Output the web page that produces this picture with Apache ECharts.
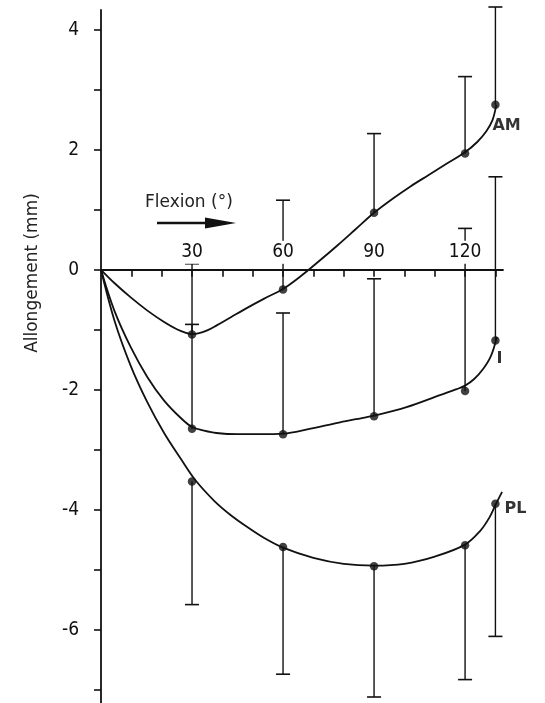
<!DOCTYPE html>
<html>
<head>
<meta charset="utf-8">
<script src="https://cdn.jsdelivr.net/npm/echarts@6/dist/echarts.min.js"></script>
<style>
  html, body { margin: 0; padding: 0; background: #ffffff; }
  #chart { width: 545px; height: 703px; }
</style>
</head>
<body>
<div id="chart"></div>
<script>
// ---- data ----
const angles   = [30, 60, 90, 120, 130];          // flexion (deg) of measured points
const amMean   = [-1.08, -0.33, 0.95, 1.94, 2.75];
const amUpper  = [0.10, 1.16, 2.27, 3.22, 4.38];
const iMean    = [-2.65, -2.74, -2.44, -2.02, -1.18];
const iUpper   = [-0.91, -0.72, -0.15, 0.69, 1.55];
const plMean   = [-3.53, -4.62, -4.94, -4.59, -3.90];
const plLower  = [-5.58, -6.74, -7.12, -6.83, -6.11];

// fitted curves
const amCurveX = [0, 4.4, 9.8, 15.3, 20.8, 25, 28, 30, 32, 35, 38, 42.8, 48.3, 53.8, 60, 66, 72, 78, 84, 90, 96, 102, 108, 114, 120, 124, 127, 129, 130.3];
const amCurveY = [0, -0.22, -0.46, -0.68, -0.87, -0.99, -1.05, -1.07, -1.06, -1.01, -0.93, -0.79, -0.63, -0.48, -0.32, -0.10, 0.15, 0.41, 0.68, 0.95, 1.18, 1.39, 1.58, 1.77, 1.96, 2.13, 2.31, 2.49, 2.75];
const iCurveX  = [0, 4.4, 9.8, 15.3, 20.8, 26.3, 30, 34, 38, 45, 53, 60, 68, 78, 84, 90, 100.7, 111.7, 117.2, 120, 123, 126, 128.5, 130.5];
const iCurveY  = [0, -0.68, -1.29, -1.79, -2.18, -2.47, -2.62, -2.68, -2.72, -2.74, -2.74, -2.73, -2.66, -2.55, -2.49, -2.43, -2.29, -2.09, -1.99, -1.93, -1.82, -1.65, -1.44, -1.12];
const plCurveX = [0, 4.4, 9.8, 15.3, 20.8, 26.3, 31, 37.3, 42.8, 48.3, 53.8, 60, 70, 80, 90, 100, 110, 120, 125, 128, 130, 132.2];
const plCurveY = [0, -0.84, -1.60, -2.21, -2.72, -3.15, -3.50, -3.85, -4.09, -4.29, -4.47, -4.63, -4.80, -4.90, -4.93, -4.90, -4.78, -4.58, -4.35, -4.13, -3.92, -3.70];

const seriesNames = ['AM', 'I', 'PL'];
const xTickValues  = [10, 20, 30, 40, 50, 60, 70, 80, 90, 100, 110, 120, 130];
const xLabelValues = [30, 60, 90, 120];
const yTickValues  = [-7, -6, -5, -4, -3, -2, -1, 0, 1, 2, 3, 4];
const yLabelValues = [-6, -4, -2, 0, 2, 4];
const xName = 'Flexion (°)';
const yName = 'Allongement (mm)';

const INK = '#111111';
const X_MIN = 0, X_MAX = 132.5, Y_MIN = -7.22, Y_MAX = 4.33;
const chart = echarts.init(document.getElementById('chart'), null, { renderer: 'canvas' });

function curve(xs, ys) {
  return {
    type: 'line', smooth: 0.35, xAxisIndex: 0, yAxisIndex: 0,
    data: xs.map((x, i) => [x, ys[i]]),
    showSymbol: false, symbol: 'none',
    lineStyle: { color: INK, width: 1.8 },
    z: 3, animation: false, silent: true
  };
}

function points(name, means, labelOffset) {
  return {
    name: name, type: 'scatter', xAxisIndex: 0, yAxisIndex: 0,
    symbol: 'circle', symbolSize: 8.5,
    itemStyle: { color: INK },
    data: means.map((m, i) => {
      const item = { value: [angles[i], m] };
      if (i === means.length - 1) {
        item.label = {
          show: true, formatter: name, position: 'inside',
          align: 'left', verticalAlign: 'middle', offset: labelOffset,
          color: '#000', fontFamily: 'DejaVu Sans', fontWeight: 'bold', fontSize: 16
        };
      }
      return item;
    }),
    z: 4, animation: false
  };
}

function errBars(means, ends) {
  return {
    type: 'custom', clip: false, z: 2, animation: false, xAxisIndex: 0, yAxisIndex: 0,
    data: means.map((m, i) => [angles[i], m, ends[i]]),
    renderItem: function (params, api) {
      const p0 = api.coord([api.value(0), api.value(1)]);
      const p1 = api.coord([api.value(0), api.value(2)]);
      const cw = 7;
      return {
        type: 'group',
        children: [
          { type: 'line', shape: { x1: p0[0], y1: p0[1], x2: p1[0], y2: p1[1] },
            style: { stroke: INK, lineWidth: 1.4 } },
          { type: 'line', shape: { x1: p1[0] - cw, y1: p1[1], x2: p1[0] + cw, y2: p1[1] },
            style: { stroke: INK, lineWidth: 1.6 } }
        ]
      };
    }
  };
}

const TICK_FONT = { color: INK, fontFamily: 'DejaVu Sans Condensed, DejaVu Sans', fontSize: 19 };
// zero line position (pixels) for the label strip grid
const gridTop = 10, gridH = 693;
const zeroY = gridTop + gridH * (Y_MAX - 0) / (Y_MAX - Y_MIN);

const option = {
  backgroundColor: '#ffffff',
  animation: false,
  grid: [
    { left: 101, right: 42, top: gridTop, height: gridH, containLabel: false },
    { left: 101, right: 42, top: zeroY, height: 1, containLabel: false }
  ],
  xAxis: [
    {
      type: 'value', min: X_MIN, max: X_MAX, gridIndex: 0, z: 4,
      axisLine: { onZero: true, lineStyle: { color: INK, width: 1.8 } },
      axisTick: { show: true, inside: false, length: 7, customValues: xTickValues,
                  lineStyle: { color: INK, width: 1.6 } },
      axisLabel: { show: false },
      splitLine: { show: false }
    },
    {
      type: 'value', min: X_MIN, max: X_MAX, gridIndex: 1, position: 'top', z: 6,
      axisLine: { show: false }, axisTick: { show: false },
      axisLabel: Object.assign({ show: true, margin: 6, customValues: xLabelValues,
                  backgroundColor: '#ffffff', padding: [2, 2, 2, 2] }, TICK_FONT),
      splitLine: { show: false }
    }
  ],
  yAxis: [
    {
      type: 'value', min: Y_MIN, max: Y_MAX, gridIndex: 0,
      axisLine: { onZero: true, lineStyle: { color: INK, width: 1.8 } },
      axisTick: { show: true, inside: false, length: 7, customValues: yTickValues,
                  lineStyle: { color: INK, width: 1.6 } },
      axisLabel: Object.assign({ show: true, margin: 22, customValues: yLabelValues }, TICK_FONT),
      splitLine: { show: false }
    },
    {
      type: 'value', min: 0, max: 1, gridIndex: 1, show: false
    }
  ],
  graphic: [
    { type: 'text', x: 33, y: 273, rotation: Math.PI / 2,
      style: { text: yName, align: 'center', verticalAlign: 'middle',
               fill: '#222', font: '17px "DejaVu Sans"' } },
    { type: 'text', x: 145, y: 203,
      style: { text: xName, align: 'left', verticalAlign: 'middle',
               fill: '#222', font: '17px "DejaVu Sans"' } },
    { type: 'line', shape: { x1: 157, y1: 223, x2: 212, y2: 223 },
      style: { stroke: INK, lineWidth: 2.6 } },
    { type: 'polygon', shape: { points: [[205, 217.5], [236, 223], [205, 228.5]] },
      style: { fill: INK } }
  ],
  series: [
    errBars(amMean, amUpper),
    errBars(iMean, iUpper),
    errBars(plMean, plLower),
    curve(amCurveX, amCurveY),
    curve(iCurveX, iCurveY),
    curve(plCurveX, plCurveY),
    points(seriesNames[0], amMean, [-3, 21]),
    points(seriesNames[1], iMean, [1, 18]),
    points(seriesNames[2], plMean, [9, 5])
  ]
};
chart.setOption(option);
</script>
</body>
</html>
